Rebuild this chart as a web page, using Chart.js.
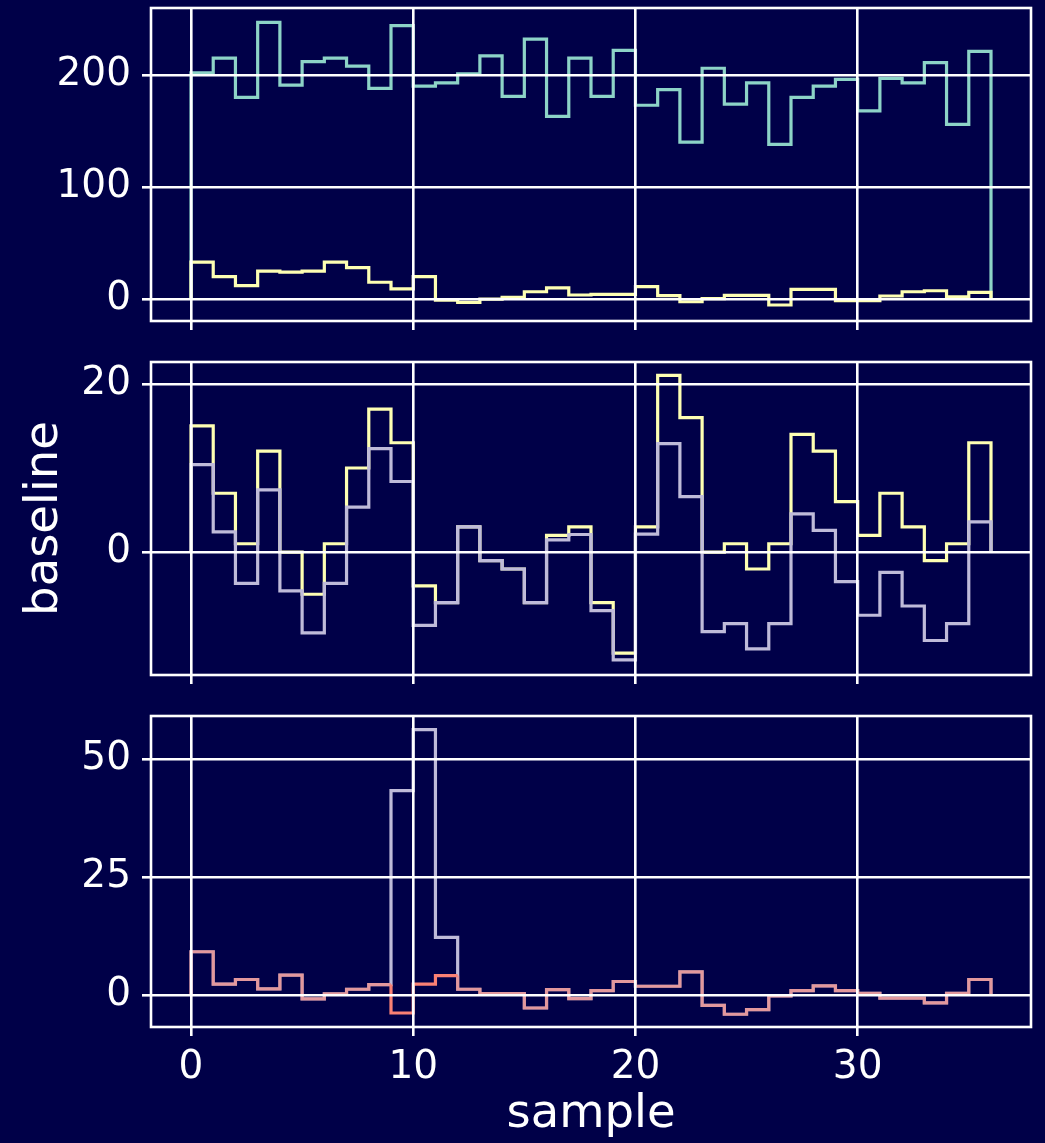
<!DOCTYPE html>
<html>
<head>
<meta charset="utf-8">
<script src="https://cdn.jsdelivr.net/npm/chart.js@4.4.1/dist/chart.umd.min.js"></script>
<style>
  html, body { margin: 0; padding: 0; background: #000048; }
  #fig { position: relative; width: 1045px; height: 1143px; background: #000048; overflow: hidden; }
  #fig canvas { position: absolute; left: 0; }
</style>
</head>
<body>
<div id="fig">
  <canvas id="panelTop" width="1045" height="340" style="top:0px"></canvas>
  <canvas id="panelMid" width="1045" height="340" style="top:354px"></canvas>
  <canvas id="panelLow" width="1045" height="435" style="top:708px"></canvas>
</div>
<script>
// Bin edges shared by all three panels (36 bins)
const sampleEdges = [0, 1, 2, 3, 4, 5, 6, 7, 8, 9, 10, 11, 12, 13, 14, 15, 16, 17, 18,
                     19, 20, 21, 22, 23, 24, 25, 26, 27, 28, 29, 30, 31, 32, 33, 34, 35, 36];
const stairBaseline = 0;
const xTicks = [0, 10, 20, 30];

// Top panel
const topTeal = [202, 215, 180, 247, 191, 212, 215, 208, 188, 244, 190, 193, 201, 217, 181, 232, 163, 215,
                 181, 222, 173, 187, 140, 206, 174, 193, 138, 180, 190, 196, 168, 197, 193, 211, 156, 221];
const topYellow = [33, 20, 12, 25, 24, 25, 33, 28, 15, 9, 20, -1, -3, 0, 1.5, 6.5, 10, 3.6,
                   4.2, 4.2, 11, 3, -2.4, 0.3, 3.3, 3.3, -5.3, 8.6, 8.6, -1.5, -1.5, 2.7, 6.5, 7.4, 2, 6];
const topTicks = [0, 100, 200];

// Middle panel
const midYellow = [15, 7, 1, 12, 0, -5, 1, 10, 17, 13, -4, -6, 3, -1, -2, -6, 2, 3,
                   -6, -12, 3, 21, 16, 0, 1, -2, 1, 14, 12, 6, 2, 7, 3, -1, 1, 13];
const midLavender = [10.4, 2.4, -3.7, 7.4, -4.6, -9.6, -3.7, 5.35, 12.3, 8.4, -8.7, -6, 3, -1, -2, -6, 1.45, 2.1,
                     -6.95, -12.8, 2.15, 12.9, 6.6, -9.45, -8.5, -11.5, -8.5, 4.55, 2.6, -3.5, -7.5, -2.4, -6.4, -10.5, -8.5, 3.6];
const midTicks = [0, 20];

// Bottom panel
const lowSalmon = [9.15, 2.27, 3.26, 1.28, 4.18, -0.85, 0.2, 1.2, 2.2, -3.83, 2.27, 4.1, 1.2, 0.28, 0.28, -2.77, 1.13, -0.78,
                   0.9, 2.84, 1.84, 1.84, 4.9, -2.2, -4.1, -3.1, -0.2, 0.92, 1.9, 0.92, 0.35, -0.7, -0.7, -1.7, 0.35, 3.26];
const lowLavender = [9.15, 2.27, 3.26, 1.28, 4.18, -0.85, 0.2, 1.2, 2.2, 43.3, 56.2, 12.2, 1.2, 0.28, 0.28, -2.77, 1.13, -0.78,
                     0.9, 2.84, 1.84, 1.84, 4.9, -2.2, -4.1, -3.1, -0.2, 0.92, 1.9, 0.92, 0.35, -0.7, -0.7, -1.7, 0.35, 3.26];
const lowTicks = [0, 25, 50];

const COLORS = {
  bg: '#000048',
  fg: '#ffffff',
  teal: '#8dd3c7',
  yellow: '#feffb3',
  lavender: '#bfbbd9',
  salmon: '#fa8174',
  salmonSoft: 'rgba(250,129,116,0.6)'
};
const FONT = 'DejaVu Sans';
Chart.defaults.font.family = FONT;

// Stairs outline: rises from the baseline at the first edge, steps across every bin,
// and falls back to the baseline at the last edge ('after' = vertical first, then horizontal).
function stairPoints(values) {
  const pts = [{ x: sampleEdges[0], y: stairBaseline }];
  values.forEach((v, i) => pts.push({ x: sampleEdges[i + 1], y: v }));
  pts.push({ x: sampleEdges[sampleEdges.length - 1], y: stairBaseline });
  return pts;
}

function stairs(values, color, extra) {
  return Object.assign({
    data: stairPoints(values),
    borderColor: color,
    borderWidth: 3.2,
    stepped: 'after',
    pointRadius: 0,
    fill: false,
    tension: 0
  }, extra || {});
}

const frame = {
  id: 'frame',
  afterDraw(chart) {
    const { ctx, chartArea: a } = chart;
    ctx.save();
    ctx.strokeStyle = COLORS.fg;
    ctx.lineWidth = 2.6;
    ctx.strokeRect(a.left, a.top, a.right - a.left, a.bottom - a.top);
    ctx.restore();
  }
};

function makePanel(id, cfg) {
  const tickFont = { family: FONT, size: 39 };
  const titleFont = { family: FONT, size: 46.5 };
  return new Chart(document.getElementById(id), {
    type: 'line',
    data: { datasets: cfg.datasets },
    options: {
      responsive: false,
      animation: false,
      events: [],
      layout: { padding: { left: 0, right: 14, top: 8, bottom: 0 }, autoPadding: false },
      plugins: { legend: { display: false }, tooltip: { enabled: false } },
      scales: {
        x: {
          type: 'linear',
          min: -1.8,
          max: 37.8,
          afterBuildTicks: s => { s.ticks = xTicks.map(v => ({ value: v })); },
          afterFit: s => { s.height = cfg.xAxisHeight; s.paddingLeft = 0; s.paddingRight = 0; },
          grid: { color: COLORS.fg, lineWidth: 2.6, tickLength: 9, tickColor: COLORS.fg, tickWidth: 2.6, z: 1 },
          border: { display: false },
          ticks: { display: cfg.showXLabels, color: COLORS.fg, font: tickFont, padding: 8, maxRotation: 0, autoSkip: false },
          title: cfg.xTitle
            ? { display: true, text: cfg.xTitle, color: COLORS.fg, font: titleFont, padding: { top: 0, bottom: 0 } }
            : { display: false }
        },
        y: {
          type: 'linear',
          min: cfg.yMin,
          max: cfg.yMax,
          afterBuildTicks: s => { s.ticks = cfg.yTicks.map(v => ({ value: v })); },
          afterFit: s => { s.width = 151; s.paddingTop = 0; s.paddingBottom = 0; },
          grid: { color: COLORS.fg, lineWidth: 2.6, tickLength: 9, tickColor: COLORS.fg, tickWidth: 2.6, z: 1 },
          border: { display: false },
          ticks: { color: COLORS.fg, font: tickFont, padding: 11, autoSkip: false },
          title: cfg.yTitle
            ? { display: true, text: cfg.yTitle, color: COLORS.fg, font: titleFont, padding: { top: 17, bottom: 0 } }
            : { display: false }
        }
      }
    },
    plugins: [frame]
  });
}

// First dataset in each list is painted on top
makePanel('panelTop', {
  datasets: [stairs(topYellow, COLORS.yellow), stairs(topTeal, COLORS.teal)],
  yMin: -19.6, yMax: 259.8, yTicks: topTicks,
  showXLabels: false, xAxisHeight: 19
});

makePanel('panelMid', {
  datasets: [stairs(midLavender, COLORS.lavender), stairs(midYellow, COLORS.yellow)],
  yMin: -14.6, yMax: 22.6, yTicks: midTicks,
  showXLabels: false, xAxisHeight: 19, yTitle: 'baseline'
});

makePanel('panelLow', {
  datasets: [
    stairs(lowSalmon, COLORS.salmon, {
      segment: {
        borderColor: c => {
          const bin = c.p1DataIndex - 1;
          const shared = bin >= lowSalmon.length || lowSalmon[bin] === lowLavender[bin];
          return shared ? COLORS.salmonSoft : COLORS.salmon;
        }
      }
    }),
    stairs(lowLavender, COLORS.lavender)
  ],
  yMin: -6.8, yMax: 59.1, yTicks: lowTicks,
  showXLabels: true, xAxisHeight: 116, xTitle: 'sample'
});
</script>
</body>
</html>
